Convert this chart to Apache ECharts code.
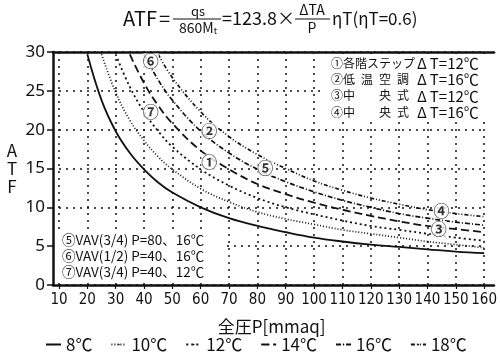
<!DOCTYPE html>
<html>
<head>
<meta charset="utf-8">
<script src="https://cdn.jsdelivr.net/npm/echarts@6/dist/echarts.min.js"></script>
<style>
html, body { margin: 0; padding: 0; background: #fff; }
#chart { width: 500px; height: 354px; }
</style>
</head>
<body>
<div id="chart"></div>
<script>
// 全圧 P (mmaq)
const pressure = [20, 25, 30, 35, 40, 45, 50, 60, 70, 80, 90, 100, 110, 120, 130, 140, 150, 160];
// ATF, one array per ΔT
const atf8 = [29.7, 23.8, 19.8, 17.0, 14.9, 13.2, 11.9, 10.0, 8.6, 7.6, 6.8, 6.1, 5.6, 5.2, 4.9, 4.6, 4.3, 4.1];
const atf10 = [null, 29.7, 24.8, 21.2, 18.6, 16.5, 14.9, 12.4, 10.7, 9.4, 8.5, 7.8, 7.1, 6.6, 6.1, 5.6, 5.2, 4.8];
const atf12 = [null, null, 29.7, 25.5, 22.3, 19.8, 17.8, 14.9, 12.8, 11.2, 10.0, 9.1, 8.3, 7.6, 7.1, 6.6, 6.1, 5.7];
const atf14 = [null, null, null, 29.7, 26.0, 23.1, 20.8, 17.3, 14.9, 13.0, 11.7, 10.6, 9.7, 8.9, 8.2, 7.6, 7.2, 6.8];
const atf16 = [null, null, null, null, 29.7, 26.4, 23.8, 19.8, 17.0, 14.9, 13.3, 12.0, 10.9, 10.0, 9.2, 8.6, 8.1, 7.7];
const atf18 = [null, null, null, null, null, 29.7, 26.7, 22.3, 19.1, 16.8, 15.0, 13.4, 12.2, 11.2, 10.4, 9.7, 9.2, 8.8];
const seriesNames = ['8℃', '10℃', '12℃', '14℃', '16℃', '18℃'];
// circled numbers sitting on the curves: [P, ATF, mark]
const curveMarks = [
  [42.4, 28.8, '⑥'], [42.4, 22.3, '⑦'], [63, 19.9, '②'], [63, 15.8, '①'],
  [82.8, 15.1, '⑤'], [145, 9.6, '④'], [144, 7.2, '③']
];
const noteRightLeft = ['①各階ステップ', '②低\u2002温\u2002空\u2002調', '③中\u3000\u3000央\u2002式', '④中\u3000\u3000央\u2002式'];
const noteRightRight = ['Δ\u2009T=12℃', 'Δ\u2009T=16℃', 'Δ\u2009T=12℃', 'Δ\u2009T=16℃'];
const noteLeft = ['⑤VAV(3/4) P=80、16℃', '⑥VAV(1/2) P=40、16℃', '⑦VAV(3/4) P=40、12℃'];

const FONT = "'Noto Sans CJK JP', 'Noto Sans', sans-serif";
const INK = '#111';
const dashes = ['solid', [1, 2], [2, 3], [8, 4], [5, 2, 1, 2], [4, 2, 1, 2, 1, 2]];
const widths = [1.8, 1.7, 1.8, 1.8, 1.7, 1.7];

const pair = vals => pressure.map((p, i) => [p, vals[i]]).filter(d => d[1] != null);
const allVals = [atf8, atf10, atf12, atf14, atf16, atf18];

const dotted = {show: true, lineStyle: {type: [2, 5], color: INK, width: 1.5}};

const graphic = [
  // title
  {type: 'text', left: 123, top: 8, style: {text: 'ATF', font: '20px ' + FONT, fill: INK}},
  {type: 'text', left: 159, top: 8, style: {text: '=', font: '20px ' + FONT, fill: INK}},
  {type: 'text', x: 198, y: 11, style: {text: 'qs', font: '13px ' + FONT, fill: INK, align: 'center', verticalAlign: 'middle'}},
  {type: 'line', shape: {x1: 173, y1: 19, x2: 221, y2: 19}, style: {stroke: INK, lineWidth: 1.2}},
  {type: 'text', x: 198, y: 28, style: {
    text: '{a|860M}{b|t}', align: 'center', verticalAlign: 'middle',
    rich: {a: {font: '14px ' + FONT, fill: INK}, b: {font: '9px ' + FONT, fill: INK, padding: [6, 0, 0, 0]}}
  }},
  {type: 'text', left: 222, top: 9, style: {text: '=123.8×', font: '18px ' + FONT, fill: INK}},
  {type: 'text', x: 312, y: 10, style: {text: 'ΔTA', font: '14px ' + FONT, fill: INK, align: 'center', verticalAlign: 'middle'}},
  {type: 'line', shape: {x1: 295, y1: 19, x2: 330, y2: 19}, style: {stroke: INK, lineWidth: 1.2}},
  {type: 'text', x: 312, y: 28, style: {text: 'P', font: '14px ' + FONT, fill: INK, align: 'center', verticalAlign: 'middle'}},
  {type: 'text', left: 332, top: 10, style: {text: 'ηT(ηT=0.6)', font: '17px ' + FONT, fill: INK}},
  // y name
  {type: 'text', x: 12, y: 169, style: {text: 'A\nT\nF', font: '17px ' + FONT, fill: INK, align: 'center', verticalAlign: 'middle', lineHeight: 18}},
  // white panels under the notes
  {type: 'rect', z: 5, shape: {x: 325, y: 54, width: 168, height: 66}, style: {fill: '#fff'}},
  {type: 'rect', z: 5, shape: {x: 56, y: 229, width: 169, height: 54}, style: {fill: '#fff'}}
];
noteRightLeft.forEach((t, i) => {
  graphic.push({type: 'text', z: 6, x: 331, y: 63 + i * 16.4, style: {text: t, font: '12px ' + FONT, fill: INK, verticalAlign: 'middle'}});
  graphic.push({type: 'text', z: 6, x: 417, y: 63 + i * 16.4, style: {text: noteRightRight[i], font: '15px ' + FONT, fill: INK, verticalAlign: 'middle'}});
});
noteLeft.forEach((t, i) => {
  graphic.push({type: 'text', z: 6, x: 62, y: 240 + i * 16, style: {text: t, font: '13.5px ' + FONT, fill: INK, verticalAlign: 'middle'}});
});

const chart = echarts.init(document.getElementById('chart'));
chart.setOption({
  animation: false,
  backgroundColor: '#fff',
  textStyle: {fontFamily: FONT, color: INK},
  grid: [
    {left: 59, right: 6, top: 52, bottom: 69},
    {left: 53, right: 6, top: 52, bottom: 69}
  ],
  legend: {
    data: seriesNames,
    top: 331,
    left: 40,
    itemWidth: 15,
    itemHeight: 2,
    itemGap: 18,
    textStyle: {fontSize: 17, color: INK, fontFamily: FONT}
  },
  xAxis: [
    {
      gridIndex: 0, type: 'value', min: 10, max: 160, interval: 10,
      axisLine: {show: false},
      axisTick: {show: true, length: 4, lineStyle: {color: INK, width: 1.2}},
      axisLabel: {fontSize: 15, margin: 8, color: INK, fontFamily: "'Liberation Sans Narrow', 'DejaVu Sans Condensed', 'Noto Sans', sans-serif"},
      splitLine: dotted,
      name: '全圧P[mmaq]', nameLocation: 'middle', nameGap: 33,
      nameTextStyle: {fontSize: 17, color: INK, fontFamily: FONT}
    },
    {
      gridIndex: 1, type: 'value', min: 0, max: 1, position: 'bottom',
      axisLine: {show: true, lineStyle: {color: INK, width: 2.5}},
      axisTick: {show: false}, axisLabel: {show: false}, splitLine: {show: false}
    },
    {
      gridIndex: 1, type: 'value', min: 0, max: 1, position: 'top',
      axisLine: {show: true, lineStyle: {color: INK, width: 2.5}},
      axisTick: {show: false}, axisLabel: {show: false}, splitLine: {show: false}
    }
  ],
  yAxis: [
    {
      gridIndex: 0, type: 'value', min: 0, max: 30, interval: 5, offset: 6,
      axisLine: {show: true, lineStyle: {color: INK, width: 2.5}},
      axisTick: {show: true, length: 6, lineStyle: {color: INK, width: 1.5}},
      axisLabel: {fontSize: 17, margin: 8, color: INK, fontFamily: "'Noto Sans', sans-serif"},
      splitLine: dotted
    },
    {gridIndex: 1, type: 'value', min: 0, max: 1, show: false}
  ],
  graphic: graphic,
  series: seriesNames.map((name, i) => ({
    name: name,
    type: 'line',
    xAxisIndex: 0,
    yAxisIndex: 0,
    smooth: 0.4,
    symbol: 'none',
    showSymbol: false,
    z: 3,
    lineStyle: {color: INK, width: widths[i], type: dashes[i]},
    itemStyle: {color: INK},
    data: pair(allVals[i])
  })).concat([{
    type: 'scatter',
    xAxisIndex: 0,
    yAxisIndex: 0,
    symbolSize: 1,
    itemStyle: {color: 'rgba(0,0,0,0)'},
    silent: true,
    z: 4,
    label: {
      show: true, position: 'inside', fontSize: 16, fontWeight: 'bold', color: '#000',
      backgroundColor: '#fff', padding: 0,
      formatter: p => p.value[2]
    },
    data: curveMarks
  }])
});
</script>
</body>
</html>
